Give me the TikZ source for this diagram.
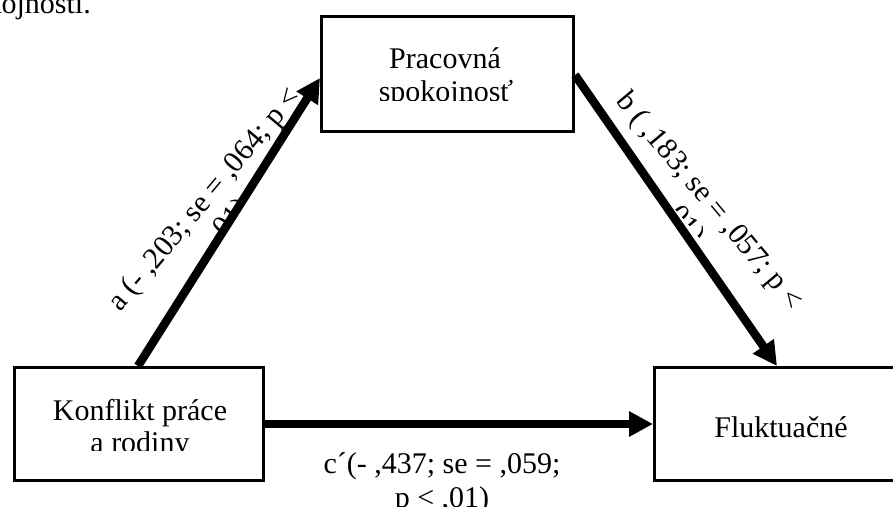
\documentclass[tikz,border=0pt]{standalone}
\usepackage{fontspec}
\setmainfont{Liberation Serif}
\usetikzlibrary{arrows.meta,calc}
\begin{document}
\begin{tikzpicture}[x=1pt,y=-1pt,
  box/.style={draw, line width=3pt, minimum width=249pt, minimum height=113pt, inner sep=0pt},
  lbl/.style={font=\fontsize{30}{33}\selectfont, inner sep=0pt},
  conn/.style={line width=8.5pt, -{Triangle[length=24pt,width=24pt]}}]
\useasboundingbox (0,0) rectangle (893,506);
\clip (0,0) rectangle (893,506);
\node[lbl, anchor=base east] (toptxt) at (91,13) {spokojnosti.};
% boxes
\node[box, minimum width=252pt, minimum height=115pt] (T) at (447.5,74) {};
\node[box] (L) at (139,424) {};
\node[box] (R) at (779,424) {};
% box texts (clipped as in the reference)
\begin{scope}
  \clip (320,15) rectangle (575,100);
  \node[lbl, anchor=base] (Tt1) at (445,68) {Pracovná};
  \node[lbl, anchor=base] (Tt2) at (446,101) {spokojnosť};
\end{scope}
\begin{scope}
  \clip (13,366) rectangle (265,450);
  \node[lbl, anchor=base] (Lt1) at (140,420) {Konflikt práce};
  \node[lbl, anchor=base] (Lt2) at (140,452) {a rodiny};
\end{scope}
\node[lbl, anchor=base] (Rt) at (781,437) {Fluktuačné};
% edge labels
\node[lbl, anchor=base] (cl1) at (442,473) {c´(- ,437; se = ,059;};
\node[lbl, anchor=base] (cl2) at (442,507) {p < ,01)};
\begin{scope}[shift={(211,205)}, rotate=50]
  \node[lbl, anchor=base, transform shape] (al1) at (0,0) {a (- ,203; se = ,064; p <};
  \clip (-160,-30) rectangle (160,23);
  \node[lbl, anchor=base, transform shape] (al2) at (0,33) {,01)};
\end{scope}
\begin{scope}[shift={(703,206.5)}, rotate=-50]
  \node[lbl, anchor=base, transform shape] (bl1) at (0,0) {b ( ,183; se = ,057; p <};
  \clip (-160,-30) rectangle (160,23);
  \node[lbl, anchor=base, transform shape] (bl2) at (0,33) {,01)};
\end{scope}
% connectors
\draw[conn] ([xshift=-1pt]L.north) -- ([yshift=-4pt]T.west);
\draw[conn] ([yshift=-1pt]T.east) -- ([xshift=-2pt]R.north);
\draw[conn] (L.east) -- (R.west);
\end{tikzpicture}
\end{document}
